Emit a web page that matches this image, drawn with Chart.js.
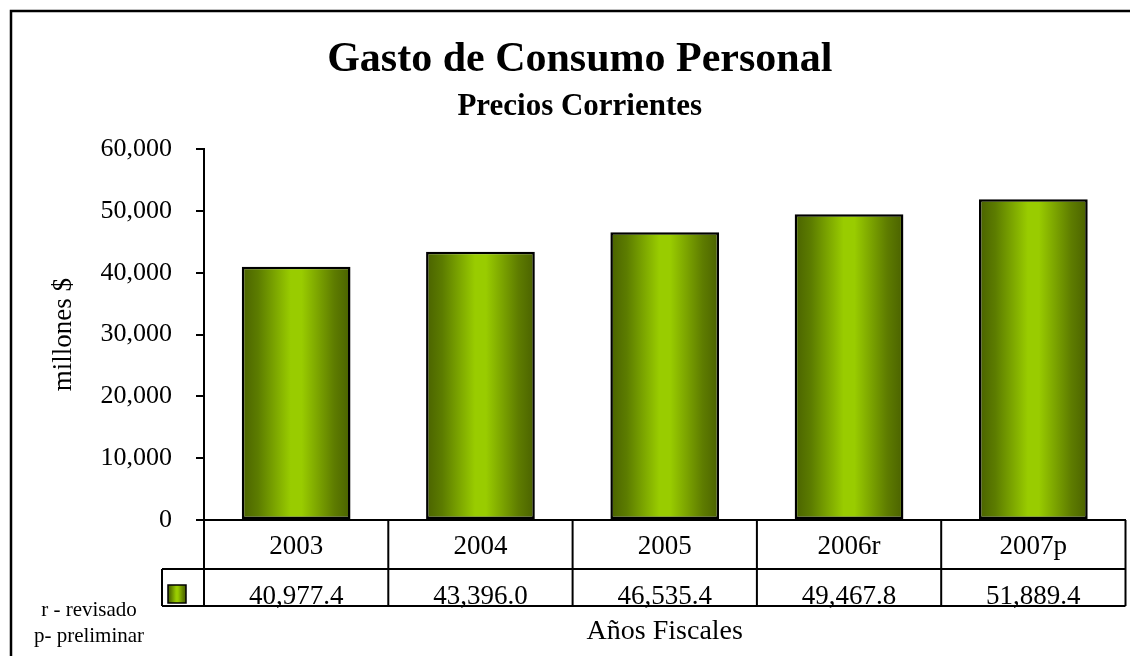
<!DOCTYPE html>
<html>
<head>
<meta charset="utf-8">
<script src="https://cdn.jsdelivr.net/npm/chart.js@4.4.1/dist/chart.umd.min.js"></script>
<style>
  html, body { margin: 0; padding: 0; background: #ffffff; }
  #wrap { width: 1130px; height: 656px; position: relative; }
</style>
</head>
<body>
<div id="wrap"><canvas id="gastoChart"></canvas></div>
<script>
// datos
const categories = ['2003', '2004', '2005', '2006r', '2007p'];
const gasto = [40977.4, 43396.0, 46535.4, 49467.8, 51889.4];
const notas = ['r - revisado', 'p- preliminar'];

const FONT = "'Liberation Serif', 'Times New Roman', serif";
const BAR_PCT = 0.59;

// degradado horizontal de cada barra
function barFill(ctx, x0, x1) {
  const g = ctx.createLinearGradient(x0, 0, x1, 0);
  g.addColorStop(0, '#4a6200');
  g.addColorStop(0.15, '#5c7c00');
  g.addColorStop(0.45, '#99cc00');
  g.addColorStop(0.55, '#99cc00');
  g.addColorStop(0.85, '#5e7c00');
  g.addColorStop(1, '#4a6100');
  return g;
}

function fmt(v) {
  return v.toLocaleString('en-US', { minimumFractionDigits: 1, maximumFractionDigits: 1 });
}

// marco exterior
const framePlugin = {
  id: 'frame',
  beforeDraw(chart) {
    const ctx = chart.ctx;
    ctx.save();
    ctx.fillStyle = '#ffffff';
    ctx.fillRect(0, 0, chart.width, chart.height);
    ctx.strokeStyle = '#000000';
    ctx.lineWidth = 2.5;
    ctx.strokeRect(11, 11, chart.width + 20, chart.height + 20);
    ctx.restore();
  }
};

// tabla de datos bajo el eje
const tablePlugin = {
  id: 'dataTable',
  afterDraw(chart) {
    const ctx = chart.ctx;
    const xs = chart.scales.x;
    const area = chart.chartArea;
    const cw = xs.width / categories.length;
    const top = area.bottom;
    const mid = top + 49;
    const bot = top + 86;
    const keyLeft = area.left - 42;

    ctx.save();
    ctx.strokeStyle = '#000000';
    ctx.lineWidth = 2;
    ctx.beginPath();
    ctx.moveTo(area.left, top); ctx.lineTo(xs.right, top);
    ctx.moveTo(keyLeft, mid); ctx.lineTo(xs.right, mid);
    ctx.moveTo(keyLeft, bot); ctx.lineTo(xs.right, bot);
    ctx.moveTo(keyLeft, mid); ctx.lineTo(keyLeft, bot);
    for (let i = 0; i <= categories.length; i++) {
      const x = i < categories.length ? xs.getPixelForValue(i) - cw / 2 : xs.getPixelForValue(i - 1) + cw / 2;
      ctx.moveTo(x, top); ctx.lineTo(x, bot);
    }
    ctx.stroke();

    ctx.fillStyle = '#000000';
    ctx.font = '27px ' + FONT;
    ctx.textAlign = 'center';
    ctx.textBaseline = 'alphabetic';
    categories.forEach((c, i) => {
      const x = xs.getPixelForValue(i);
      ctx.fillText(c, x, top + 34);
      ctx.fillText(fmt(gasto[i]), x, bot - 2);
    });

    // clave de la serie
    const kx = keyLeft + 6, ky = mid + 16, ks = 18;
    ctx.fillStyle = barFill(ctx, kx, kx + ks);
    ctx.fillRect(kx, ky, ks, ks);
    ctx.lineWidth = 1.5;
    ctx.strokeRect(kx, ky, ks, ks);

    // notas
    ctx.fillStyle = '#000000';
    ctx.font = '21px ' + FONT;
    notas.forEach((n, i) => ctx.fillText(n, 89, bot + 10 + i * 26));
    ctx.restore();
  }
};

new Chart(document.getElementById('gastoChart').getContext('2d'), {
  type: 'bar',
  data: {
    labels: categories,
    datasets: [
      {
        label: 'Gasto de Consumo Personal',
        data: gasto,
        backgroundColor: (c) => {
          const chart = c.chart;
          const xs = chart.scales.x;
          if (!chart.chartArea || !xs) return '#99cc00';
          const cx = xs.getPixelForValue(c.dataIndex);
          const w = xs.width / categories.length * BAR_PCT;
          return barFill(chart.ctx, cx - w / 2, cx + w / 2);
        },
        borderColor: '#000000',
        borderWidth: 2.5,
        borderSkipped: false,
        barPercentage: BAR_PCT,
        categoryPercentage: 1,
      },
    ],
  },
  options: {
    responsive: true,
    maintainAspectRatio: false,
    animation: false,
    layout: { padding: { top: 0, left: 34, right: 4.5, bottom: 0 } },
    plugins: {
      legend: { display: false },
      tooltip: { enabled: false },
      title: {
        display: true,
        text: 'Gasto de Consumo Personal',
        color: '#000000',
        font: { family: FONT, size: 42, weight: 'bold', lineHeight: 1.2 },
        padding: { top: 35, bottom: 0 },
      },
      subtitle: {
        display: true,
        text: 'Precios Corrientes',
        color: '#000000',
        font: { family: FONT, size: 31, weight: 'bold', lineHeight: 1.2 },
        padding: { top: 3, bottom: 23.5 },
      },
    },
    scales: {
      x: {
        grid: { display: false, drawTicks: false },
        border: { display: true, color: '#000000', width: 2 },
        ticks: { display: false },
        title: {
          display: true,
          text: 'Años Fiscales',
          color: '#000000',
          font: { family: FONT, size: 28, lineHeight: 1.2 },
          padding: { top: 0, bottom: 8 },
        },
        afterFit: (s) => { s.height = 136; },
      },
      y: {
        min: 0,
        max: 60000,
        grid: { drawOnChartArea: false, drawTicks: true, tickLength: 8, color: '#000000', lineWidth: 2 },
        border: { display: true, color: '#000000', width: 2 },
        ticks: {
          stepSize: 10000,
          color: '#000000',
          padding: 24,
          font: { family: FONT, size: 26 },
          callback: (v) => v.toLocaleString('en-US'),
        },
        title: {
          display: true,
          text: 'millones $',
          color: '#000000',
          font: { family: FONT, size: 27, lineHeight: 1.2 },
          padding: { top: 14, bottom: 0 },
        },
        afterFit: (s) => { s.width = 170; },
      },
    },
  },
  plugins: [framePlugin, tablePlugin],
});
</script>
</body>
</html>
